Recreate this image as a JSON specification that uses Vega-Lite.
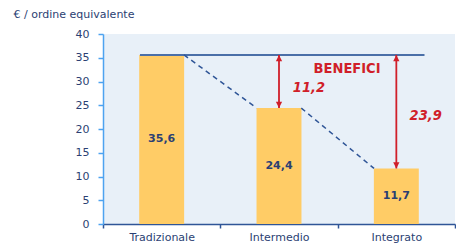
{
  "$schema": "https://vega.github.io/schema/vega-lite/v6.json",
  "width": 352,
  "height": 190,
  "autosize": "none",
  "padding": {"left": 103, "top": 34, "right": 1, "bottom": 19},
  "background": "white",
  "config": {"view": {"fill": "#E8F0F8", "stroke": null}, "font": "DejaVu Sans"},
  "resolve": {"scale": {"x": "independent", "y": "independent"}, "axis": {"x": "independent", "y": "independent"}},
  "data": {"values": [
    {"sistema": "Tradizionale", "costo": 35.6, "etichetta": "35,6"},
    {"sistema": "Intermedio", "costo": 24.4, "etichetta": "24,4"},
    {"sistema": "Integrato", "costo": 11.7, "etichetta": "11,7"}
  ]},
  "layer": [
    {
      "mark": {"type": "bar", "width": {"band": 0.383}, "color": "#FFCC66"},
      "encoding": {
        "x": {"field": "sistema", "type": "nominal", "sort": null,
          "scale": {"paddingInner": 0, "paddingOuter": 0},
          "axis": {"title": null, "tickBand": "extent", "labelAngle": 0, "domainColor": "#2F5597", "domainWidth": 1.5,
            "tickColor": "#2F5597", "tickSize": 4, "tickWidth": 1.5, "labelColor": "#2B3F73", "labelFontSize": 11, "labelPadding": 3}},
        "y": {"field": "costo", "type": "quantitative",
          "scale": {"domain": [0, 40], "nice": false},
          "axis": {"title": "€ / ordine equivalente", "titleAngle": 0, "titleX": -90, "titleY": -20, "titleAlign": "left",
            "titleBaseline": "middle", "titleFontWeight": "normal", "titleFontSize": 11, "titleColor": "#2B3F73",
            "values": [0, 5, 10, 15, 20, 25, 30, 35, 40], "grid": false, "domainColor": "#4DA3F0", "domainWidth": 1.5,
            "tickColor": "#4DA3F0", "tickSize": 5, "tickWidth": 1.5, "labelColor": "#2B3F73", "labelFontSize": 11, "labelPadding": 9}}
      }
    },
    {
      "mark": {"type": "text", "font": "DejaVu Sans", "fontWeight": "bold", "fontSize": 11, "color": "#2B3F73", "baseline": "middle"},
      "encoding": {
        "x": {"field": "sistema", "type": "nominal", "sort": null, "scale": {"paddingInner": 0, "paddingOuter": 0}, "axis": null},
        "y": {"field": "costo", "type": "quantitative", "scale": {"domain": [0, 80], "nice": false}, "axis": null},
        "text": {"field": "etichetta"}
      }
    },
    {
      "data": {"values": [{"da": 0.315, "a": 2.74, "livello": 35.6}]},
      "mark": {"type": "rule", "color": "#4A6FA8", "strokeWidth": 2},
      "encoding": {
        "x": {"field": "da", "type": "quantitative", "scale": {"domain": [0, 3], "nice": false}, "axis": null},
        "x2": {"field": "a"},
        "y": {"field": "livello", "type": "quantitative", "scale": {"domain": [0, 40], "nice": false}, "axis": null}
      }
    },
    {
      "data": {"values": [
        {"x0": 0.69, "y0": 35.6, "x1": 1.31, "y1": 24.4},
        {"x0": 1.69, "y0": 24.4, "x1": 2.31, "y1": 11.7}
      ]},
      "mark": {"type": "rule", "color": "#2F5597", "strokeWidth": 1.5, "strokeDash": [5, 4]},
      "encoding": {
        "x": {"field": "x0", "type": "quantitative", "scale": {"domain": [0, 3], "nice": false}, "axis": null},
        "x2": {"field": "x1"},
        "y": {"field": "y0", "type": "quantitative", "scale": {"domain": [0, 40], "nice": false}, "axis": null},
        "y2": {"field": "y1"}
      }
    },
    {
      "data": {"values": [
        {"pos": 1.5, "da": 35.6, "a": 24.4},
        {"pos": 2.5, "da": 35.6, "a": 11.7}
      ]},
      "layer": [
        {
          "mark": {"type": "rule", "color": "#D01F2A", "strokeWidth": 1.8},
          "encoding": {
            "x": {"field": "pos", "type": "quantitative", "scale": {"domain": [0, 3], "nice": false}, "axis": null},
            "y": {"field": "da", "type": "quantitative", "scale": {"domain": [0, 40], "nice": false}, "axis": null},
            "y2": {"field": "a"}
          }
        },
        {
          "mark": {"type": "point", "filled": true, "color": "#D01F2A", "opacity": 1, "size": 130, "shape": "M0,0L-0.55,1.1L0.55,1.1Z"},
          "encoding": {
            "x": {"field": "pos", "type": "quantitative", "scale": {"domain": [0, 3], "nice": false}, "axis": null},
            "y": {"field": "da", "type": "quantitative", "scale": {"domain": [0, 40], "nice": false}, "axis": null}
          }
        },
        {
          "mark": {"type": "point", "filled": true, "color": "#D01F2A", "opacity": 1, "size": 130, "shape": "M0,0L-0.55,-1.1L0.55,-1.1Z"},
          "encoding": {
            "x": {"field": "pos", "type": "quantitative", "scale": {"domain": [0, 3], "nice": false}, "axis": null},
            "y": {"field": "a", "type": "quantitative", "scale": {"domain": [0, 40], "nice": false}, "axis": null}
          }
        }
      ]
    },
    {
      "data": {"values": [{"px": 2.08, "py": 32.6, "testo": "BENEFICI"}]},
      "mark": {"type": "text", "font": "DejaVu Sans Condensed", "fontWeight": "bold", "fontSize": 14.5, "color": "#D01F2A", "baseline": "middle", "align": "center"},
      "encoding": {
        "x": {"field": "px", "type": "quantitative", "scale": {"domain": [0, 3], "nice": false}, "axis": null},
        "y": {"field": "py", "type": "quantitative", "scale": {"domain": [0, 40], "nice": false}, "axis": null},
        "text": {"field": "testo"}
      }
    },
    {
      "data": {"values": [
        {"px": 1.755, "py": 28.6, "testo": "11,2"},
        {"px": 2.75, "py": 22.7, "testo": "23,9"}
      ]},
      "mark": {"type": "text", "font": "DejaVu Sans Condensed", "fontWeight": "bold", "fontStyle": "italic", "fontSize": 14.5, "color": "#D01F2A", "baseline": "middle", "align": "center"},
      "encoding": {
        "x": {"field": "px", "type": "quantitative", "scale": {"domain": [0, 3], "nice": false}, "axis": null},
        "y": {"field": "py", "type": "quantitative", "scale": {"domain": [0, 40], "nice": false}, "axis": null},
        "text": {"field": "testo"}
      }
    }
  ]
}
